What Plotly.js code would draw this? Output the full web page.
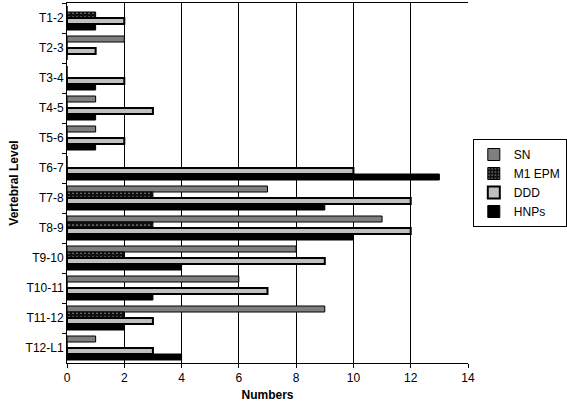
<!DOCTYPE html>
<html>
<head>
<meta charset="utf-8">
<script src="https://cdn.plot.ly/plotly-3.0.1.min.js"></script>
<style>
  html, body { margin: 0; padding: 0; background: #fff; }
  #chart { width: 567px; height: 407px; }
</style>
</head>
<body>
<div id="chart"></div>
<script>
const levels = ["T1-2", "T2-3", "T3-4", "T4-5", "T5-6", "T6-7", "T7-8", "T8-9", "T9-10", "T10-11", "T11-12", "T12-L1"];
const sn     = [0, 2, 0, 1, 1, 0, 7, 11, 8, 6, 9, 1];
const m1epm  = [1, 0, 0, 0, 0, 0, 3, 3, 2, 0, 2, 0];
const ddd    = [2, 1, 2, 3, 2, 10, 12, 12, 9, 7, 3, 3];
const hnps   = [1, 0, 1, 1, 1, 13, 9, 10, 4, 3, 2, 4];
const xTicks = [0, 2, 4, 6, 8, 10, 12, 14];

function barTrace(name, values, color, lineWidth, pattern) {
  const marker = { color, line: { color: "#000", width: lineWidth } };
  if (pattern) marker.pattern = pattern;
  return {
    type: "bar",
    orientation: "h",
    name,
    x: values,
    y: levels,
    marker,
    hoverinfo: "x+name",
  };
}

const traces = [
  barTrace("SN", sn, "#7f7f7f", 1),
  barTrace("M1 EPM", m1epm, "#111", 1, { shape: ".", fgcolor: "#999", bgcolor: "#111", size: 4, solidity: 0.15 }),
  barTrace("DDD", ddd, "#c0c0c0", 2),
  barTrace("HNPs", hnps, "#000", 1),
];

const layout = {
  width: 567,
  height: 407,
  margin: { l: 67, r: 99, t: 3, b: 44, autoexpand: false },
  paper_bgcolor: "#fff",
  plot_bgcolor: "#fff",
  font: { family: "Liberation Sans, Arial, sans-serif", size: 12, color: "#000" },
  barmode: "group",
  bargap: 0.2,
  bargroupgap: 0,
  showlegend: true,
  legend: {
    x: 1.012, xanchor: "left", y: 0.5, yanchor: "middle",
    bordercolor: "#000", borderwidth: 1,
    font: { size: 12 },
    tracegroupgap: 0,
    itemwidth: 30,
  },
  xaxis: {
    range: [0, 14],
    tickvals: xTicks,
    ticks: "outside",
    ticklen: 4,
    tickcolor: "#000",
    showgrid: true,
    gridcolor: "#000",
    gridwidth: 1,
    zeroline: false,
    showline: true,
    linecolor: "#000",
    mirror: true,
    tickfont: { size: 12 },
    title: { text: "<b>Numbers</b>", font: { size: 12 }, standoff: 6 },
  },
  yaxis: {
    type: "category",
    autorange: "reversed",
    ticks: "outside",
    ticklen: 4,
    tickson: "boundaries",
    tickcolor: "#000",
    showline: true,
    linecolor: "#000",
    showgrid: false,
    tickfont: { size: 12 },
    title: { text: "<b>Vertebral Level</b>", font: { size: 12 }, standoff: 4 },
  },
};

Plotly.newPlot("chart", traces, layout, { staticPlot: true, displayModeBar: false });
</script>
</body>
</html>
